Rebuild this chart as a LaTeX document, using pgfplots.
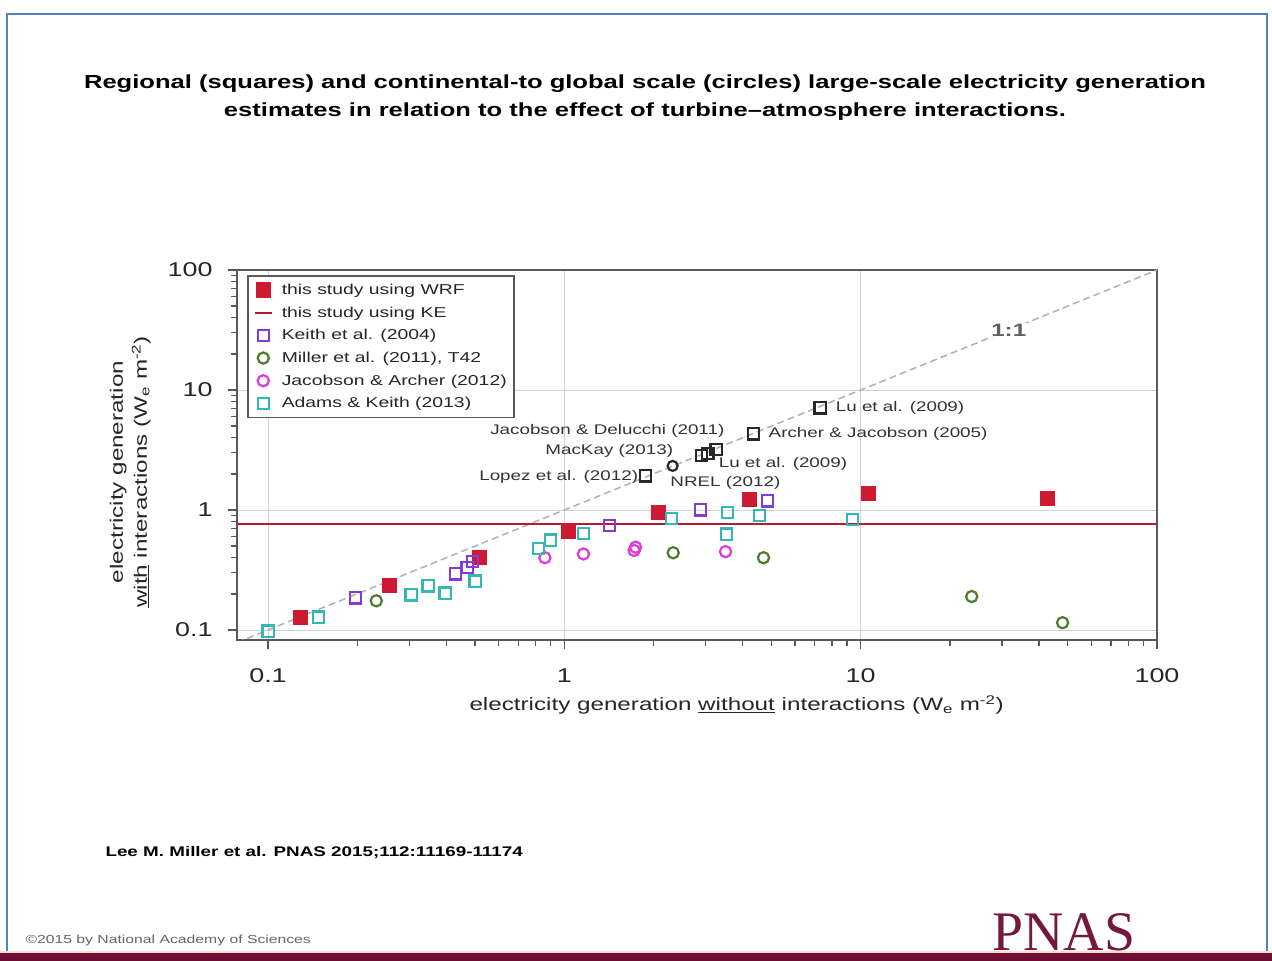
\documentclass[border=0pt]{standalone}
\usepackage{fontspec}
\setmainfont{Liberation Sans}[FakeStretch=1.35]
\newfontfamily\pnasfont{Liberation Serif}
\usepackage{pgfplots}
\pgfplotsset{compat=1.18}
\definecolor{wrf}{RGB}{205,25,50}
\definecolor{keline}{RGB}{185,25,45}
\definecolor{keith}{RGB}{130,60,220}
\definecolor{miller}{RGB}{75,125,45}
\definecolor{jaca}{RGB}{220,60,220}
\definecolor{adams}{RGB}{50,185,180}
\definecolor{other}{RGB}{40,40,40}
\definecolor{slideblue}{RGB}{79,129,189}
\definecolor{maroon}{RGB}{110,15,50}
\definecolor{pnas}{RGB}{115,25,60}
\begin{document}
\begin{tikzpicture}
\useasboundingbox (0bp,0bp) rectangle (1272bp,961bp);
\fill[white] (0bp,0bp) rectangle (1272bp,961bp);
% slide frame
\draw[slideblue, line width=2bp] (7bp,0bp) -- (7bp,947bp) -- (1267bp,947bp) -- (1267bp,0bp);
% title
\node[align=center, font=\bfseries\fontsize{19}{28}\selectfont] at (645bp,863bp)
 {Regional (squares) and continental-to global scale (circles) large-scale electricity generation\\
  estimates in relation to the effect of turbine--atmosphere interactions.};
\node[anchor=west, font=\bfseries\fontsize{14}{16}\selectfont] at (102bp,108bp) {Lee M. Miller et al. PNAS 2015;112:11169-11174};
\node[anchor=west, text=gray!80!black, font=\fontsize{11.7}{13}\selectfont] at (22bp,21bp) {\textcopyright2015 by National Academy of Sciences};
\node[anchor=base, inner sep=0pt, text=pnas, font=\pnasfont\fontsize{56}{60}\selectfont] at (1064bp,11bp) {PNAS};
\fill[pink!60] (0bp,8bp) rectangle (1272bp,10bp);
\fill[maroon] (0bp,0bp) rectangle (1272bp,8bp);

\begin{axis}[
  at={(237bp,321bp)}, anchor=south west,
  scale only axis, width=920bp, height=370bp,
  xmode=log, ymode=log,
  xmin=0.0786, xmax=100, ymin=0.0825, ymax=100,
  xtick={0.1,1,10,100}, ytick={0.1,1,10,100},
  xticklabels={0.1,1,10,100}, yticklabels={0.1,1,10,100},
  /pgf/number format/assume math mode=true,
  tick label style={font=\fontsize{20}{24}\selectfont, text=black!85},
  xticklabel style={yshift=-16bp},
  yticklabel style={xshift=-12bp},
  xtick pos=bottom, ytick pos=left, tick align=outside,
  major tick length=9bp, minor tick length=6bp,
  every tick/.style={gray!70!black, line width=1.3bp},
  axis line style={gray!70!black, line width=1.8bp},
  grid=major, major grid style={gray!35, line width=0.9bp},
  every axis x label/.style={at={(axis description cs:0.543,-0.176)}, anchor=center},
  every axis y label/.style={at={(axis description cs:-0.116,0.454)}, rotate=90, anchor=center, align=center},
  label style={font=\fontsize{18}{24}\selectfont, text=black!85},
  xlabel={electricity generation \underline{without} interactions (W\textsubscript{e} m\textsuperscript{-2})},
  ylabel={electricity generation\\\underline{with} interactions (W\textsubscript{e} m\textsuperscript{-2})},
  legend style={at={(axis description cs:0.0109,0.986)}, anchor=north west,
    draw=gray!70!black, line width=1.5bp, fill=white,
    font=\fontsize{14.4}{16}\selectfont, text=black!85,
    row sep=8.8bp, column sep=8bp, inner xsep=6bp, inner ysep=7bp,
    nodes={inner sep=1bp}},
  legend cell align=left,
]
% 1:1 line
\addplot[gray!60, line width=1.5bp, dash pattern=on 7bp off 4bp, forget plot] coordinates {(0.0786,0.0786) (100,100)};
\node[fill=white, inner sep=1bp, text=gray!75!black, font=\bfseries\fontsize{18}{20}\selectfont] at (axis cs:31.6,31.6) {1:1};

\addplot[only marks, mark=square*, mark size=7bp, draw=wrf, fill=wrf] coordinates {
 (0.128,0.128) (0.257,0.235) (0.516,0.406) (1.03,0.668) (2.08,0.96) (4.19,1.24) (10.6,1.39) (42.5,1.26)};
\addlegendentry{this study using WRF}
\addplot[keline, line width=2bp] coordinates {(0.0786,0.765) (100,0.765)};
\addlegendentry{this study using KE}
\addplot[only marks, mark=square, mark size=5.6bp, keith, line width=2.2bp] coordinates {
 (0.197,0.185) (0.43,0.293) (0.47,0.33) (0.49,0.37) (1.42,0.74) (2.88,1.0) (4.85,1.19)};
\addlegendentry{Keith et al. (2004)}
\addplot[only marks, mark=o, mark size=5.6bp, miller, line width=2.2bp] coordinates {
 (0.232,0.175) (2.33,0.44) (4.7,0.40) (23.7,0.19) (48,0.115)};
\addlegendentry{Miller et al. (2011), T42}
\addplot[only marks, mark=o, mark size=5.6bp, jaca, line width=2.2bp] coordinates {
 (0.86,0.40) (1.16,0.43) (1.72,0.46) (1.74,0.49) (3.5,0.45)};
\addlegendentry{Jacobson \& Archer (2012)}
\addplot[only marks, mark=square, mark size=5.6bp, adams, line width=2.2bp] coordinates {
 (0.1,0.098) (0.148,0.128) (0.304,0.196) (0.347,0.233) (0.396,0.203) (0.50,0.255)
 (0.82,0.48) (0.90,0.56) (1.16,0.64) (2.30,0.85) (3.55,0.95) (3.52,0.63) (4.56,0.90) (9.4,0.83)};
\addlegendentry{Adams \& Keith (2013)}

% other studies
\addplot[only marks, mark=square, mark size=5.6bp, other, line width=2.2bp, forget plot] coordinates {
 (7.3,7.1) (4.35,4.3) (2.9,2.85) (3.05,2.95) (3.25,3.2) (1.88,1.92)};
\addplot[only marks, mark=o, mark size=5bp, other, line width=2.2bp, forget plot] coordinates {
 (2.32,2.33)};
\node[anchor=west, font=\fontsize{14}{16}\selectfont, text=black!80, inner sep=1bp] at (axis cs:8.17,7.08) {Lu et al. (2009)};
\node[anchor=west, font=\fontsize{14}{16}\selectfont, text=black!80, inner sep=1bp] at (axis cs:4.85,4.30) {Archer \& Jacobson (2005)};
\node[anchor=east, font=\fontsize{14}{16}\selectfont, text=black!80, inner sep=1bp] at (axis cs:3.50,4.55) {Jacobson \& Delucchi (2011)};
\node[anchor=east, font=\fontsize{14}{16}\selectfont, text=black!80, inner sep=1bp] at (axis cs:2.35,3.10) {MacKay (2013)};
\node[anchor=west, font=\fontsize{14}{16}\selectfont, text=black!80, inner sep=1bp] at (axis cs:3.29,2.42) {Lu et al. (2009)};
\node[anchor=east, font=\fontsize{14}{16}\selectfont, text=black!80, inner sep=1bp] at (axis cs:1.79,1.88) {Lopez et al. (2012)};
\node[anchor=west, font=\fontsize{14}{16}\selectfont, text=black!80, inner sep=1bp] at (axis cs:2.26,1.68) {NREL (2012)};
\end{axis}
\end{tikzpicture}
\end{document}
